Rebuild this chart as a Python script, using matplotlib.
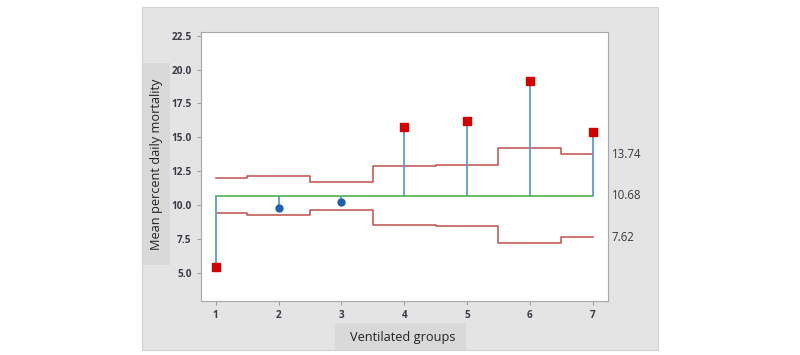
import numpy as np
import matplotlib
matplotlib.use("Agg")
import matplotlib.pyplot as plt
from matplotlib.patches import Rectangle

# data
groups = [1, 2, 3, 4, 5, 6, 7]
means = [5.45, 9.78, 10.2, 15.72, 16.2, 19.18, 15.4]
center = 10.68
ucl = [11.98, 12.12, 11.72, 12.86, 12.94, 14.20, 13.74]
lcl = [9.38, 9.24, 9.64, 8.50, 8.42, 7.16, 7.62]
out_of_control = [True, False, False, True, True, True, True]
yticks = [5.0, 7.5, 10.0, 12.5, 15.0, 17.5, 20.0, 22.5]
right_labels = ["13.74", "10.68", "7.62"]
right_values = [ucl[-1], center, lcl[-1]]

plt.rcParams['font.family'] = ['Open Sans', 'DejaVu Sans']

fig = plt.figure(figsize=(8, 3.55), dpi=100)
fig.patch.set_facecolor("white")

# grey panel behind the plot
fig.patches.append(Rectangle((142 / 800, 1 - 350 / 355), 516 / 800, 343 / 355,
                             transform=fig.transFigure, facecolor="#e4e4e4",
                             edgecolor="#d2d2d2", linewidth=0.8, zorder=-2))
# label boxes
fig.patches.append(Rectangle((143 / 800, 1 - 265 / 355), 27 / 800, 202 / 355,
                             transform=fig.transFigure, facecolor="#d9d9d9",
                             edgecolor="none", zorder=-1))
fig.patches.append(Rectangle((335 / 800, 1 - 350 / 355), 131 / 800, 27 / 355,
                             transform=fig.transFigure, facecolor="#d9d9d9",
                             edgecolor="none", zorder=-1))

ax = fig.add_axes([200.7 / 800, 1 - 300.7 / 355, 407 / 800, 268.7 / 355])
ax.set_zorder(2)
ax.set_facecolor("white")

x = np.array(groups)
ax.step(x, ucl, where="mid", color="#c0504d", linewidth=1.1)
ax.step(x, lcl, where="mid", color="#c0504d", linewidth=1.1)
ax.plot([x[0], x[-1]], [center, center], color="#5cb85c", linewidth=1.3)

ax.vlines(x, center, means, color="#5b9bd5", linewidth=1.3)
for xi, m, bad in zip(x, means, out_of_control):
    if bad:
        ax.plot(xi, m, "s", color="#d40000", markersize=5.5, zorder=5)
    else:
        ax.plot(xi, m, "o", color="#1f5fb0", markersize=5, zorder=5)

for lab, val in zip(right_labels, right_values):
    ax.annotate(lab, xy=(1.0, val), xycoords=("axes fraction", "data"),
                xytext=(3, 0), textcoords="offset points", va="center",
                ha="left", fontsize=8.3, color="#3a3a3a", annotation_clip=False)

ax.set_xlim(0.76, 7.24)
ax.set_ylim(2.93, 22.77)
ax.set_xticks(groups)
ax.set_yticks(yticks)
ax.set_yticklabels([f"{t:.1f}" for t in yticks])
ax.tick_params(labelsize=7.2, colors="#a0a0a0", labelcolor="#3a3a4a", length=3)
for lab in ax.get_xticklabels() + ax.get_yticklabels():
    lab.set_fontweight("bold")
for s in ax.spines.values():
    s.set_color("#a8a8a8")

fig.text(156.5 / 800, 1 - 164 / 355, "Mean percent daily mortality", rotation=90,
         ha="center", va="center", fontsize=9.2, color="#222222")
fig.text(403 / 800, 1 - 337 / 355, "Ventilated groups",
         ha="center", va="center", fontsize=9.2, color="#222222")

fig.savefig("out.png", dpi=100, facecolor="white")
